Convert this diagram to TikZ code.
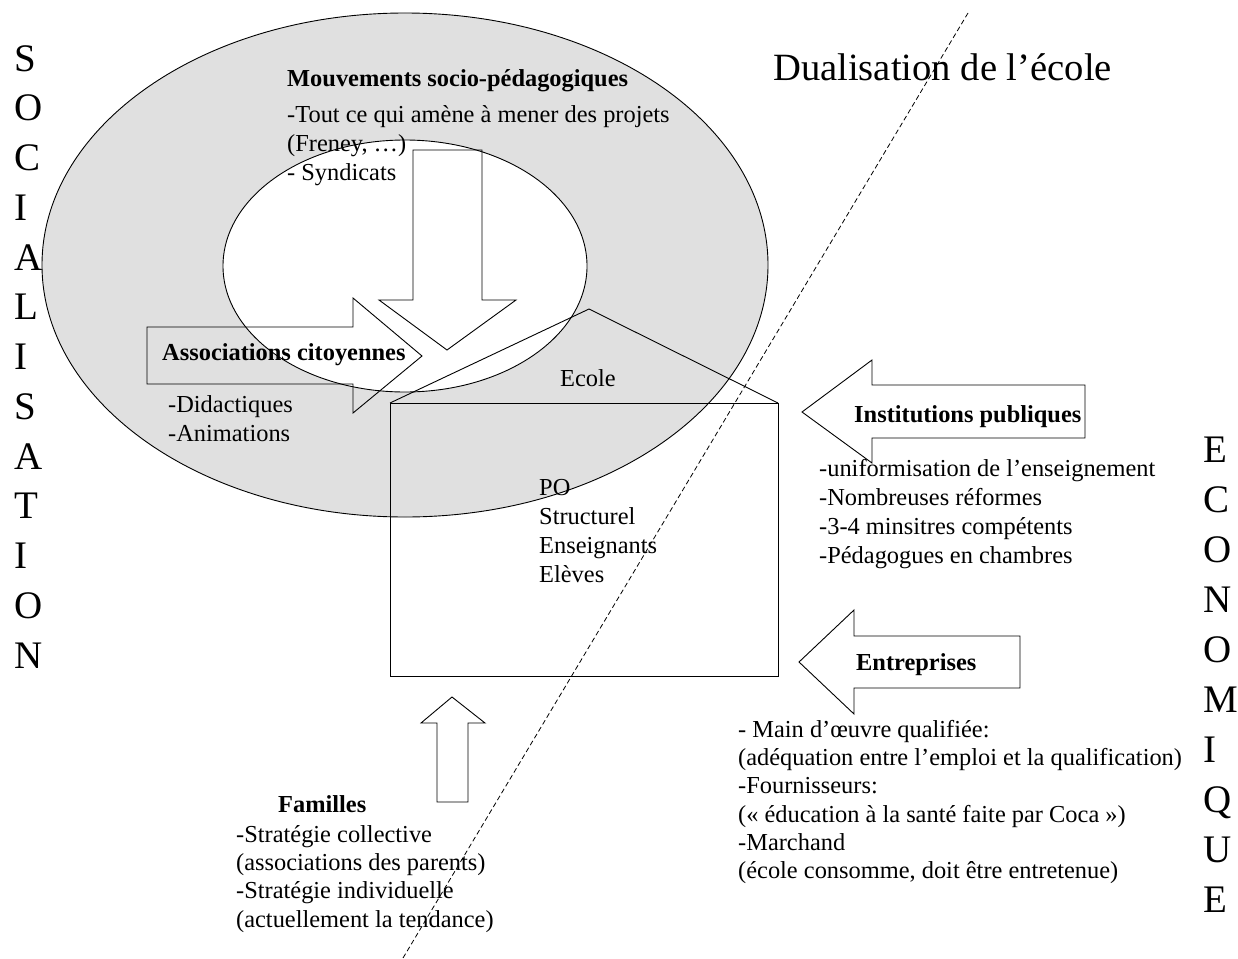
\documentclass[tikz,border=0pt]{standalone}
\usepackage{fontspec}
\setmainfont{Liberation Serif}
\definecolor{ringgray}{RGB}{224,224,224}
\begin{document}
\begin{tikzpicture}[x=1pt,y=-1pt,
  shape line/.style={draw=black,line width=0.9pt,line join=miter},
  body/.style={anchor=north west,inner sep=0pt,align=left,font=\fontsize{24.4}{29}\selectfont},
  bodytight/.style={anchor=north west,inner sep=0pt,align=left,font=\fontsize{24.4}{28.3}\selectfont},
  head/.style={anchor=base west,inner sep=0pt,font=\fontsize{24.4}{29}\selectfont\bfseries},
  plain/.style={anchor=base west,inner sep=0pt,font=\fontsize{24.4}{29}\selectfont},
  vletter/.style={anchor=base west,inner sep=0pt,font=\fontsize{39}{49.75}\selectfont},
  divider/.style={draw=black,line width=0.8pt,dash pattern=on 5pt off 3pt}]
\useasboundingbox (0,0) rectangle (1238,958);
\fill[white] (0,0) rectangle (1238,958);

% ellipses
\path[shape line,fill=ringgray] (405,265) ellipse [x radius=363pt,y radius=252pt];
\path[shape line,fill=white] (405,266) ellipse [x radius=182pt,y radius=126pt];

% school house
\coordinate (hl) at (390,403);
\coordinate (hr) at (778,403);
\coordinate (apex) at (589,309);
\draw[shape line] (hl) rectangle (778,676);
\draw[shape line] (hl) -- (apex) -- (hr);

% arrows
\draw[shape line] (413,150) -- (482,150) -- (482,300) -- (516,300) -- (447,350) -- (379,300) -- (413,300) -- cycle;
\draw[shape line] (147,327) -- (353,327) -- (353,298) -- (422,356) -- (353,413) -- (353,384) -- (147,384) -- cycle;
\draw[shape line] (1085,385) -- (872,385) -- (872,360) -- (802,412) -- (872,463) -- (872,438) -- (1085,438) -- cycle;
\draw[shape line] (1020,636) -- (854,636) -- (854,610) -- (799,662) -- (854,714) -- (854,688) -- (1020,688) -- cycle;
\draw[shape line] (437,802) -- (437,723) -- (421,723) -- (452,697) -- (485,723) -- (468,723) -- (468,802) -- cycle;

% texts
\node[anchor=base west,inner sep=0pt,font=\fontsize{38.6}{44}\selectfont] (title) at (773,81) {Dualisation de l’école};
\foreach \c [count=\i from 0] in {S,O,C,I,A,L,I,S,A,T,I,O,N}
  \node[vletter] (soc\i) at (14,{71+49.75*\i}) {\c};
\foreach \c [count=\i from 0] in {E,C,O,N,O,M,I,Q,U,E}
  \node[vletter] (eco\i) at (1203,{462+50*\i}) {\c};

\node[head] (mvt) at (287,86) {Mouvements socio-pédagogiques};
\node[body] (mvtl) at (287,101.7) {\strut -Tout ce qui amène à mener des projets\\(Freney, …)\\- Syndicats};

\node[head] (asso) at (162,360) {Associations citoyennes};
\node[body] (assol) at (168,391.7) {\strut -Didactiques\\-Animations};

\node[plain] (ecole) at (560,386) {Ecole};
\node[body] (ecolel) at (539,474.7) {\strut PO\\Structurel\\Enseignants\\Elèves};

\node[head] (inst) at (854,422) {Institutions publiques};
\node[body] (instl) at (819,455.7) {\strut -uniformisation de l’enseignement\\-Nombreuses réformes\\-3-4 minsitres compétents\\-Pédagogues en chambres};

\node[head] (entr) at (856,670) {Entreprises};
\node[bodytight] (entrl) at (738,717.2) {\strut - Main d’œuvre qualifiée:\\(adéquation entre l’emploi et la qualification)\\-Fournisseurs:\\(« éducation à la santé faite par Coca »)\\-Marchand\\(école consomme, doit être entretenue)};

\node[head] (fam) at (278,812) {Familles};
\node[bodytight] (faml) at (236,822.2) {\strut -Stratégie collective\\(associations des parents)\\-Stratégie individuelle\\(actuellement la tendance)};

% dividing line
\coordinate (dtop) at (968,13);
\coordinate (dbot) at (403,958);
\draw[divider] (dtop) -- (dbot);
\end{tikzpicture}
\end{document}
